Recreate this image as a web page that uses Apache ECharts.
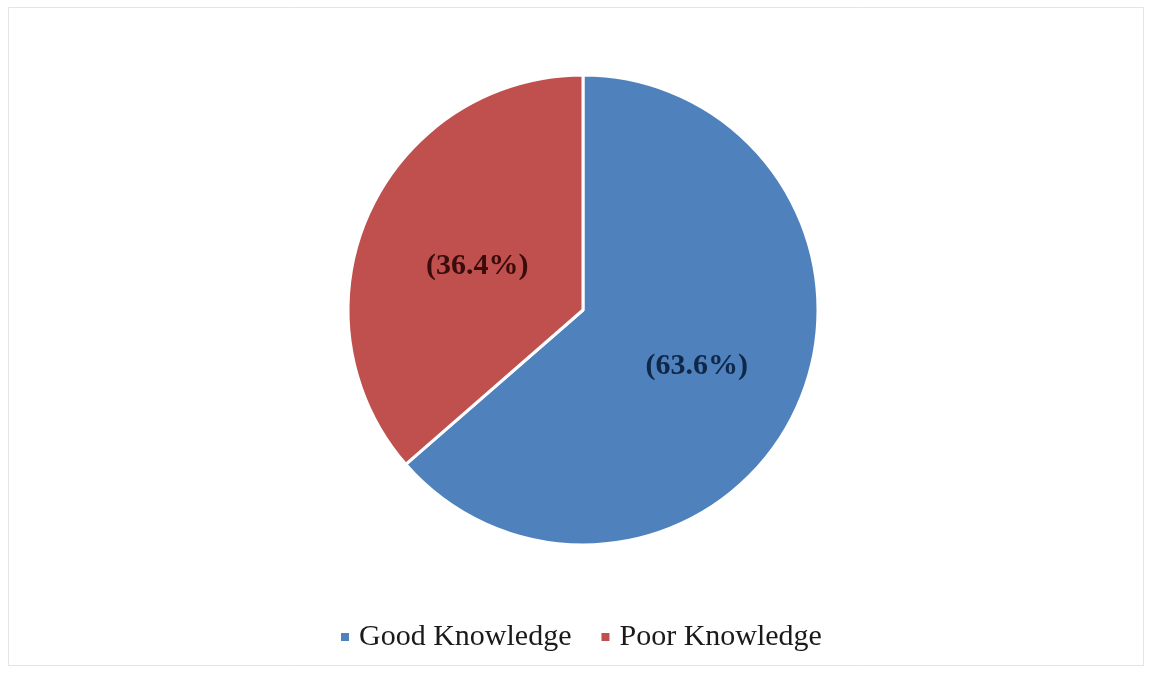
<!DOCTYPE html>
<html>
<head>
<meta charset="utf-8">
<script src="https://cdn.jsdelivr.net/npm/echarts@6/dist/echarts.min.js"></script>
<style>
html,body{margin:0;padding:0;background:#fff;}
#chart{width:1152px;height:674px;}
</style>
</head>
<body>
<div id="chart"></div>
<script>
const categories = ["Good Knowledge", "Poor Knowledge"];
const values = [63.6, 36.4];
const colors = ["#4F81BD", "#C0504D"];
const labelColors = ["#0F2748", "#3A0C0C"];

const chart = echarts.init(document.getElementById('chart'));
chart.setOption({
  backgroundColor: '#ffffff',
  animation: false,
  graphic: [{
    type: 'rect',
    shape: {x: 8.5, y: 7.5, width: 1135, height: 658},
    style: {fill: 'none', stroke: '#e4e4e4', lineWidth: 1},
    silent: true
  }],
  legend: {
    data: categories,
    left: 334,
    top: 617,
    icon: 'rect',
    itemWidth: 10,
    itemHeight: 10,
    itemGap: 28,
    textStyle: {fontFamily: 'Liberation Serif', fontSize: 30, color: '#1a1a1a', padding: [0, 0, 0, 4]}
  },
  series: [{
    type: 'pie',
    center: [583, 310],
    radius: [0, 235],
    startAngle: 90,
    clockwise: true,
    data: categories.map((c, i) => ({
      name: c,
      value: values[i],
      itemStyle: {color: colors[i]},
      label: {color: labelColors[i]}
    })),
    itemStyle: {borderColor: '#ffffff', borderWidth: 3},
    label: {
      show: true,
      position: 'inside',
      offset: [4, 6],
      formatter: p => '(' + p.value.toFixed(1) + '%)',
      fontFamily: 'Liberation Serif',
      fontWeight: 'bold',
      fontSize: 30
    },
    labelLine: {show: false},
    emphasis: {disabled: true}
  }]
});
</script>
</body>
</html>
